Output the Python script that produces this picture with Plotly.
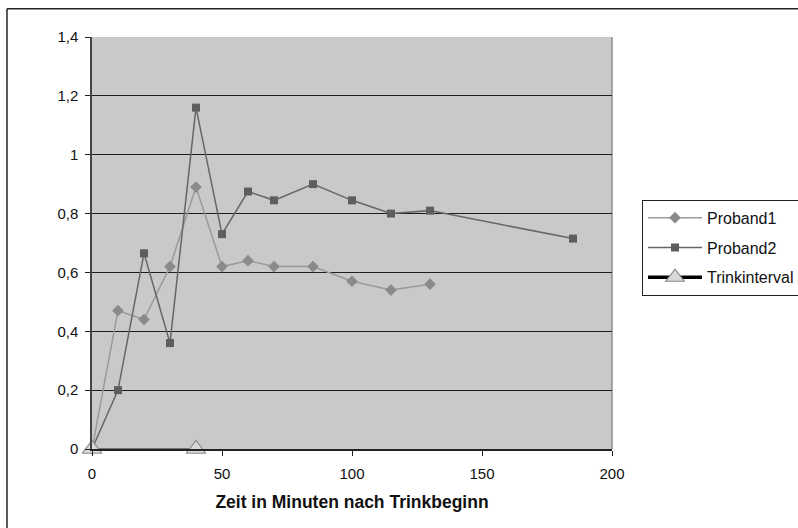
import plotly.graph_objects as go

# Measurements over time after drinking start
zeit = [0, 10, 20, 30, 40, 50, 60, 70, 85, 100, 115, 130]
proband1 = [0, 0.47, 0.44, 0.62, 0.89, 0.62, 0.64, 0.62, 0.62, 0.57, 0.54, 0.56]

zeit2 = [0, 10, 20, 30, 40, 50, 60, 70, 85, 100, 115, 130, 185]
proband2 = [0, 0.20, 0.665, 0.36, 1.16, 0.73, 0.875, 0.845, 0.90, 0.845, 0.80, 0.81, 0.715]

trink_x = [0, 40]
trink_y = [0, 0]

y_ticks = [0, 0.2, 0.4, 0.6, 0.8, 1.0, 1.2, 1.4]
y_labels = ["0", "0,2", "0,4", "0,6", "0,8", "1", "1,2", "1,4"]
x_ticks = [0, 50, 100, 150, 200]

FONT = "Liberation Sans, Arial, sans-serif"
TRI_MARKER = dict(symbol="triangle-up", size=17, color="#d9d9d9",
                  line=dict(color="#8a8a8a", width=1.2))

fig = go.Figure()
fig.add_trace(go.Scatter(
    x=zeit, y=proband1, name="Proband1", mode="lines+markers",
    line=dict(color="#9a9a9a", width=1.5),
    marker=dict(symbol="diamond", size=9, color="#8a8a8a"),
    legendgroup="a", cliponaxis=False,
))
fig.add_trace(go.Scatter(
    x=zeit2, y=proband2, name="Proband2", mode="lines+markers",
    line=dict(color="#666666", width=1.5),
    marker=dict(symbol="square", size=8, color="#5e5e5e"),
    legendgroup="b", cliponaxis=False,
))
# drinking interval: markers on the axis, thick black line shown in the legend
fig.add_trace(go.Scatter(
    x=trink_x, y=trink_y, name="Trinkinterval", mode="lines+markers",
    line=dict(color="#222222", width=1),
    marker=TRI_MARKER, legendgroup="c", showlegend=False, cliponaxis=False,
))
fig.add_trace(go.Scatter(
    x=[None], y=[None], name="Trinkinterval", mode="lines+markers",
    line=dict(color="#000000", width=3.5),
    marker=TRI_MARKER, legendgroup="c",
))

fig.update_layout(
    width=798, height=528,
    margin=dict(l=92, r=186, t=37, b=79, pad=0, autoexpand=False),
    paper_bgcolor="white",
    plot_bgcolor="#c9c9cb",
    font=dict(family=FONT, size=15, color="#111111"),
    showlegend=True,
    legend=dict(
        x=1.0577, y=0.605, xanchor="left", yanchor="top",
        bgcolor="white", bordercolor="#222222", borderwidth=1,
        font=dict(family=FONT, size=16, color="#111111"),
        tracegroupgap=6, itemwidth=54,
    ),
    xaxis=dict(
        range=[0, 200], tickvals=x_ticks, showgrid=False, zeroline=False,
        showline=True, linecolor="#222222", linewidth=1.5,
        ticks="outside", ticklen=5, tickcolor="#222222",
        tickfont=dict(family=FONT, size=15), ticklabelstandoff=5,
        automargin=False,
        title=dict(text="<b>Zeit in Minuten nach Trinkbeginn</b>",
                   font=dict(family=FONT, size=17.5), standoff=15),
    ),
    yaxis=dict(
        range=[0, 1.4], tickvals=y_ticks, ticktext=y_labels,
        showgrid=True, gridcolor="#1e1e1e", gridwidth=1.2, zeroline=False,
        showline=True, linecolor="#444444", linewidth=1.5,
        ticks="outside", ticklen=5, tickcolor="#222222",
        tickfont=dict(family=FONT, size=15), ticklabelstandoff=4,
        automargin=False,
    ),
    shapes=[
        # plot area border on right side
        dict(type="line", xref="paper", yref="paper", x0=1, x1=1, y0=0, y1=1,
             line=dict(color="#8c8c8c", width=1.5), layer="below"),
        # outer frame: left and top edges
        dict(type="line", xref="paper", yref="paper",
             x0=-0.1635, x1=-0.1635, y0=-0.3, y1=1.0685,
             line=dict(color="#222222", width=1.5)),
        dict(type="line", xref="paper", yref="paper",
             x0=-0.1635, x1=1.4, y0=1.0685, y1=1.0685,
             line=dict(color="#222222", width=1.5)),
    ],
)

fig.write_html("out.html")
